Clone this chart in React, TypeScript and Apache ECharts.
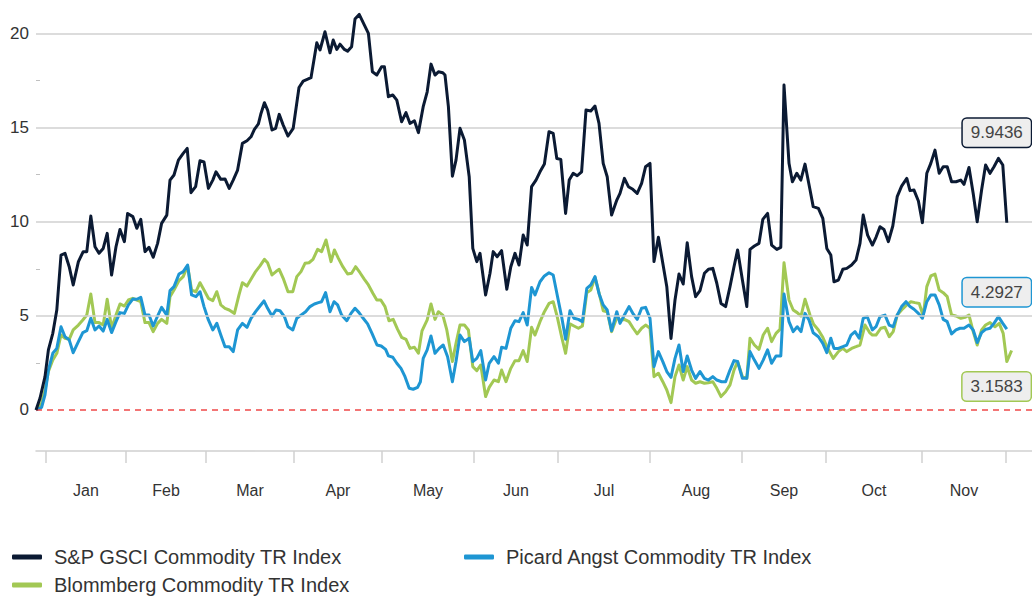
import React, { useEffect, useRef } from "react";
import * as echarts from "echarts";

// x = trading-day index since the base date, y = cumulative return (%)
const months = ["Jan", "Feb", "Mar", "Apr", "May", "Jun", "Jul", "Aug", "Sep", "Oct", "Nov"];
const monthStarts = [2.5, 22.5, 42.5, 64.5, 86.5, 109.5, 130.5, 153.5, 176.5, 197.5, 221.5, 242.5];
const yLabels = [0, 5, 10, 15, 20];
const yMinorTicks = [2.5, 7.5, 12.5, 17.5];

const gsci: [number, number][] = [
  [0,0],[1,0.62],[2.25,1.77],[3.1,3.19],[4.2,4.07],[5.2,5.31],[6.25,8.23],[7.25,8.32],[8.3,7.61],[9.3,6.64],[10.6,7.88],[11.8,8.41],[12.7,8.41],[13.7,10.3],[14.75,8.67],[15.75,8.32],[16.8,8.58],[17.8,9.38],[18.9,7.17],[20,8.67],[21,9.59],[22.1,8.94],[22.9,10.44],[24.2,10.27],[25.2,9.65],[26.2,10.12],[27.25,8.41],[28.25,8.64],[29.3,8.11],[30.4,8.85],[31.4,9.91],[32.7,10.35],[33.5,12.21],[34.5,12.48],[35.6,13.27],[36.8,13.63],[37.8,13.89],[38.75,11.54],[39.9,11.86],[41,13.24],[42,13.17],[43.1,11.77],[44.2,12.21],[45,12.65],[46.2,12.25],[47.25,12.27],[48.3,11.77],[49.3,12.21],[50.4,12.74],[51.6,14.16],[52.75,14.3],[53.75,14.51],[54.6,14.9],[55.6,15.19],[56.25,15.75],[57.1,16.32],[57.9,15.93],[59,14.87],[59.9,14.96],[60.8,15.7],[61.8,15.13],[63,14.55],[64.3,14.96],[65.75,17.13],[66.8,17.47],[67.8,17.56],[68.75,17.65],[70.2,19.5],[71,19.12],[72.25,20.09],[73.5,18.97],[74.3,19.65],[75.2,19.15],[76,19.43],[77.1,19.15],[77.9,19.06],[78.9,19.29],[79.75,20.76],[80.8,21.01],[82.1,20.44],[83.1,20],[84.1,17.96],[85.2,17.79],[86.4,18.23],[87.1,18.23],[88.1,16.64],[89.2,16.73],[90.2,16.46],[91.4,15.31],[92.5,15.79],[93.5,15.22],[94.6,15.36],[95.6,14.73],[96.8,16.11],[97.8,16.9],[98.75,18.37],[99.75,17.79],[100.6,17.96],[101.7,17.91],[102.25,17.79],[103.1,16.11],[104.1,12.42],[105,13.27],[106,14.96],[107.1,14.34],[108.3,12.39],[109.2,8.58],[110.2,7.88],[111,8.32],[112.4,6.11],[113.5,7.26],[114.3,8.41],[115.3,8.14],[116.4,8.46],[117.7,6.41],[118.7,7.61],[119.75,8.32],[120.75,7.7],[121.8,9.29],[122.8,8.76],[123.9,11.86],[125,12.21],[126,12.65],[127.1,13.06],[128.25,14.78],[129.3,14.69],[130.2,13.36],[131.2,13.31],[132.4,10.44],[133.3,12.21],[134.3,12.57],[135.3,12.44],[136.4,12.65],[137.5,15.93],[138.7,15.88],[139.75,16.14],[140.75,15.22],[141.8,13.1],[142.8,12.39],[143.9,10.35],[145.2,11.15],[146,11.5],[147.1,12.3],[148.1,11.86],[149.2,11.72],[150.3,11.5],[151.4,12.04],[152.4,12.92],[153.5,13.1],[154.5,7.88],[155.6,9.17],[156.7,7.79],[157.7,6.55],[158.75,3.8],[159.75,5.84],[160.75,7.22],[161.8,6.69],[162.8,8.88],[163.9,7.08],[164.9,6.02],[166,6.34],[167.1,7.26],[168.1,7.47],[169.2,7.52],[170.2,6.73],[171.25,5.66],[172.4,5.49],[173.5,6.55],[174.5,7.61],[175.4,8.5],[176.6,6.9],[177.7,5.49],[178.5,8.53],[179.6,8.71],[180.75,8.85],[181.7,10.12],[182.9,10.44],[183.9,8.76],[185.2,8.53],[186.2,8.64],[187,17.26],[188.25,13.1],[189.1,12.12],[190.2,12.57],[191.2,12.21],[192.25,13.06],[193.5,11.7],[194.3,10.8],[195.6,10.71],[196.7,10.18],[197.7,8.58],[198.7,8.23],[199.5,6.81],[200.6,6.9],[201.7,7.47],[202.7,7.52],[203.9,7.7],[205,7.96],[206,8.85],[206.8,10.35],[207.9,9.29],[209.1,8.76],[210,9.17],[211,9.73],[212,9.59],[213.1,8.94],[214.2,9.77],[215.3,11.33],[216.4,11.89],[217.7,12.3],[218.5,11.65],[219.5,11.68],[220.6,11.1],[221.6,9.95],[222.7,12.57],[223.7,13.1],[224.75,13.8],[225.8,12.57],[226.8,12.92],[227.8,12.92],[228.9,12.12],[230,12.12],[231.2,12.21],[232,11.98],[233.25,12.88],[234.3,11.5],[235.3,10],[236.4,11.68],[237.4,13.01],[238.5,12.57],[239.5,12.92],[240.6,13.36],[241.7,13.01],[242.7,9.9436]
];

const picard: [number, number][] = [
  [0,0],[1.4,0.14],[2.25,0.8],[3.1,2.12],[4.2,3.01],[5.2,3.27],[6.25,4.42],[7.25,3.89],[8.3,3.72],[9.3,3.04],[10.6,3.63],[11.7,4.11],[12.7,4.21],[13.7,4.87],[14.75,4.25],[15.75,4.46],[16.8,4.19],[17.8,4.81],[18.9,4.11],[20,4.69],[21,5.17],[22.1,5.13],[23.1,5.58],[24.2,5.89],[25.2,5.88],[26.2,5.98],[27.25,5.04],[28.25,5.04],[29.3,4.46],[30.4,4.99],[31.4,5.45],[32.7,5.04],[33.5,6.34],[34.5,6.55],[35.75,7.22],[36.8,7.35],[37.9,7.7],[38.9,6.11],[40,6.02],[41,6.28],[42,5.49],[43.1,4.78],[44.2,4.25],[45.2,4.6],[46.2,3.98],[47.25,3.36],[48.3,3.36],[49.3,3.1],[50.4,4.25],[51.6,4.6],[52.75,4.39],[53.75,4.87],[54.9,5.22],[56,5.52],[57,5.79],[57.9,5.4],[59,4.99],[60,5.31],[61,5.27],[62.1,4.96],[63,4.42],[64.2,4.25],[65.2,4.87],[66.25,5.04],[67.4,5.22],[68.5,5.49],[69.6,5.63],[70.6,5.7],[71.4,5.75],[72.4,6.23],[73.5,5.22],[74.5,5.75],[75.4,5.58],[76.4,5.04],[77.7,4.74],[78.75,5.13],[79.75,5.4],[80.75,5.17],[81.8,4.87],[82.9,4.57],[84,4.07],[85.25,3.45],[86.3,3.4],[87.4,3.22],[88.1,2.87],[89.2,2.8],[90.2,2.48],[91.25,2.21],[92.25,1.77],[93.3,1.15],[94.3,1.1],[95.4,1.2],[96.1,1.5],[96.8,2.74],[97.8,3.19],[98.75,3.93],[99.75,3.01],[100.8,3.27],[101.8,3.45],[102.9,2.83],[104.1,1.5],[105,2.57],[106,3.98],[107.1,3.63],[108.3,3.81],[109.2,2.57],[110.2,2.74],[111.2,3.15],[112.4,1.59],[113.3,2.48],[114.5,2.83],[115.6,2.48],[116.4,3.33],[117.5,3.27],[118.7,4.34],[119.75,4.74],[120.75,4.69],[121.8,5.17],[122.8,4.51],[123.9,6.51],[124.75,6.11],[126,6.81],[127.1,7.12],[128.25,7.29],[129.3,7.17],[130.3,6.11],[131.4,4.96],[132.4,3.75],[133.5,5.27],[134.5,4.87],[135.6,4.81],[136.6,4.69],[137.7,6.46],[138.7,6.64],[139.75,7.08],[140.75,6.19],[141.8,5.58],[142.8,5.31],[143.9,4.21],[145.2,5.22],[146,4.6],[147.1,5.04],[148.25,5.49],[149.3,5.1],[150.3,4.81],[151.4,5.4],[152.4,5.45],[153.5,4.87],[154.5,2.3],[155.6,3.1],[156.7,2.57],[157.7,2.04],[158.75,1.73],[159.75,2.74],[160.75,3.45],[161.8,2.04],[162.8,2.87],[163.9,2.12],[164.9,1.68],[166,2.04],[167.1,1.68],[168.1,1.59],[169.2,1.77],[170.2,1.59],[171.4,1.5],[172.4,1.5],[173.5,2.12],[174.5,2.62],[175.4,2.57],[176.6,1.68],[177.7,1.68],[178.5,3.1],[179.6,2.65],[180.75,2.21],[181.8,2.65],[182.9,3.19],[183.9,2.48],[185,2.87],[186.2,2.87],[187,6.16],[188.25,4.69],[189.3,4.16],[190.3,4.42],[191.25,4.16],[192.25,5.13],[193.25,4.78],[194.3,4.1],[195.6,3.89],[196.7,3.54],[197.7,3.04],[198.7,3.81],[199.5,3.27],[200.6,3.27],[201.7,3.36],[202.7,3.45],[203.75,3.98],[204.75,4.16],[205.8,3.81],[206.8,4.87],[207.8,4.96],[209.1,4.25],[210,4.42],[211,4.96],[212.25,5.04],[213.3,4.51],[214.3,4.42],[215.3,5.04],[216.4,5.49],[217.5,5.75],[218.5,5.49],[219.5,5.35],[220.6,5.13],[221.6,4.87],[222.7,5.75],[223.7,6.11],[224.75,6.11],[225.8,5.58],[226.8,4.81],[227.8,4.69],[228.9,4.04],[230,4.25],[231,4.34],[232,4.34],[233.25,4.51],[234.3,4.25],[235.3,3.58],[236.4,4.11],[237.4,4.28],[238.5,4.34],[239.5,4.6],[240.6,4.96],[241.7,4.6],[242.7,4.2927]
];

const bloomberg: [number, number][] = [
  [0,0],[1.4,0.35],[2.25,1.06],[3.1,2.04],[4.2,2.65],[5.2,3.01],[6.25,3.98],[7.25,3.81],[8.3,3.75],[9.3,4.25],[10.6,4.51],[11.7,4.78],[12.7,5.04],[13.7,6.16],[14.75,4.64],[15.75,4.64],[16.8,4.51],[17.8,5.88],[18.9,4.34],[20,5.04],[21,5.63],[22.1,5.52],[23.1,5.84],[24.2,5.93],[25.2,5.84],[26.2,5.75],[27.25,4.64],[28.25,4.64],[29.3,4.16],[30.4,4.6],[31.4,4.81],[32.7,4.6],[33.5,6.02],[34.5,6.37],[35.75,6.87],[36.8,7.08],[37.9,7.65],[38.9,6.37],[40,6.28],[41,6.76],[42,6.37],[43.1,5.93],[44.2,5.81],[45.2,6.28],[46.2,5.58],[47.25,5.4],[48.3,5.31],[49.6,5.13],[50.75,6.11],[51.6,6.76],[52.75,6.58],[53.75,6.94],[54.9,7.35],[56,7.65],[57.1,8],[57.9,7.82],[59,7.17],[60,7.35],[60.8,7.47],[61.8,6.99],[63,6.28],[64.2,6.28],[65.2,7.08],[66.25,7.35],[67.25,7.79],[68.25,7.82],[69.25,8],[70.4,8.53],[71.4,8.41],[72.5,9.03],[73.75,7.88],[74.6,8.5],[75.6,8.05],[76.7,7.61],[77.9,7.22],[78.9,7.26],[79.9,7.61],[81,7.29],[82.1,6.94],[83.1,6.64],[84.25,6.19],[85.2,5.84],[86.2,5.84],[87.25,5.49],[88.25,4.74],[89.3,4.81],[90.4,4.28],[91.4,3.86],[92.5,3.75],[93.5,3.27],[94.6,3.33],[95.6,3.01],[96.5,4.2],[97.8,4.78],[98.75,5.63],[99.75,4.81],[100.6,5.22],[101.7,5.04],[102.7,4.25],[104.1,2.57],[105,3.54],[106,4.51],[107.1,4.51],[108.1,4.25],[109.2,2.3],[110.2,2.09],[111.2,2.39],[112.4,0.71],[113.3,1.2],[114.5,1.59],[115.6,1.5],[116.4,2.12],[117.5,1.5],[118.7,2.21],[119.75,2.62],[120.75,2.62],[121.8,3.15],[122.8,2.57],[123.9,4.39],[124.75,3.98],[126,4.69],[127.1,5.22],[128.25,5.66],[129.3,5.75],[130.3,4.96],[131.4,3.89],[132.4,3.01],[133.5,4.57],[134.5,4.46],[135.6,4.34],[136.6,4.46],[137.7,6.23],[138.7,6.37],[139.75,7.04],[140.75,6.23],[141.8,5.27],[142.8,5.22],[143.9,4.16],[145.2,4.9],[146,4.78],[147.1,4.81],[148.25,4.69],[149.3,4.34],[150.3,4.04],[151.4,4.34],[152.4,4.51],[153.5,4.34],[154.5,1.77],[155.6,1.95],[156.7,1.5],[157.7,1.06],[158.75,0.39],[159.75,1.77],[160.75,2.39],[161.8,1.59],[162.8,2.3],[163.9,1.59],[164.9,1.42],[166,1.5],[167.1,1.42],[168.1,1.45],[169.2,1.5],[170.2,1.15],[171.25,0.71],[172.4,0.97],[173.5,1.33],[174.5,2.12],[175.4,2.57],[176.6,1.77],[177.7,1.68],[178.5,3.81],[179.6,3.45],[180.75,3.22],[181.8,3.98],[182.9,4.34],[183.9,3.63],[185,4.07],[186,4.28],[187,7.82],[188.25,5.84],[189.3,5.31],[190.3,5.17],[191.25,4.99],[192.25,5.88],[193.5,5.04],[194.4,4.55],[195.6,4.25],[196.7,3.86],[197.7,3.36],[199.3,2.74],[200.6,3.1],[201.7,3.27],[202.7,3.1],[203.9,3.27],[205,3.36],[206,3.45],[207.25,4.51],[208.4,4.11],[209.1,3.98],[210,3.98],[211.2,4.34],[212.25,4.39],[213.3,3.89],[214.3,4.16],[215.3,5.04],[216.4,5.31],[217.7,5.58],[218.7,5.75],[219.75,5.7],[220.8,5.66],[221.8,4.99],[222.7,6.55],[223.7,7.12],[224.75,7.22],[225.8,6.37],[226.8,6.23],[227.8,6.02],[228.9,5.04],[230,4.99],[231.2,4.87],[232.25,4.92],[233.25,5.04],[234.3,4.16],[235.3,3.45],[236.4,4.25],[237.4,4.51],[238.5,4.64],[239.75,4.42],[240.8,4.6],[241.8,4.07],[242.7,2.57],[243.9,3.1583]
];

const NAVY = "#0b1a33";
const BLUE = "#1e96d3";
const GREEN = "#a2c854";
const FONT = "'Liberation Sans', Arial, Helvetica, sans-serif";

const monthMids = months.map((_, i) => (monthStarts[i] + monthStarts[i + 1]) / 2);

function endLabel(color: string, offset: [number, number]) {
  return {
    show: true,
    formatter: (p: any) => Number(p.value[1]).toFixed(4),
    offset,
    color: "#444",
    fontSize: 17,
    fontFamily: FONT,
    backgroundColor: "#eeeeee",
    borderColor: color,
    borderWidth: 1.5,
    borderRadius: 4,
    padding: [6, 8, 5, 8],
  };
}

function legendItem(name: string, left: number, top: number) {
  return {
    data: [name],
    orient: "horizontal",
    left,
    top,
    padding: 0,
    itemWidth: 30,
    itemHeight: 5,
    icon: "roundRect",
    selectedMode: false,
    textStyle: { fontSize: 20, color: "#333", fontFamily: FONT, padding: [0, 0, 0, 7] },
  };
}

export default function App() {
  const ref = useRef<HTMLDivElement>(null);
  useEffect(() => {
    if (!ref.current) return;
    const chart = echarts.init(ref.current, undefined, { renderer: "svg" });
    const grid = { color: "#d0d0d0", width: 1.5, type: "solid" as const };
    chart.setOption({
      animation: false,
      textStyle: { fontFamily: FONT },
      grid: { left: 36, right: 0, top: 5, height: 446, containLabel: false },
      legend: [
        legendItem("S&P GSCI Commodity TR Index", 12, 547),
        legendItem("Blommberg Commodity TR Index", 12, 575),
        legendItem("Picard Angst Commodity TR Index", 464, 547),
      ],
      xAxis: {
        type: "value",
        min: 0,
        max: 249,
        axisLine: { show: true, onZero: false, lineStyle: { color: "#d0d0d0", width: 1.5 } },
        axisTick: { show: true, customValues: monthStarts, length: 12, lineStyle: { color: "#d0d0d0", width: 1.5 } },
        axisLabel: {
          customValues: monthMids,
          formatter: (v: number) => {
            let best = 0;
            monthMids.forEach((m, i) => {
              if (Math.abs(m - v) < Math.abs(monthMids[best] - v)) best = i;
            });
            return months[best];
          },
          margin: 31,
          fontSize: 16,
          color: "#333",
        },
        splitLine: { show: false },
      },
      yAxis: {
        type: "value",
        min: -2.18,
        max: 21.51,
        axisLine: { show: false },
        axisTick: { show: true, inside: true, customValues: yMinorTicks, length: 4, lineStyle: { color: "#c0c0c0" } },
        axisLabel: { customValues: yLabels, margin: 7, fontSize: 17, color: "#333" },
        splitLine: { show: false },
      },
      series: [
        {
          name: "gridlines",
          type: "line",
          data: [],
          z: 1,
          silent: true,
          markLine: {
            silent: true,
            symbol: "none",
            label: { show: false },
            data: [
              ...yLabels.filter((v) => v !== 0).map((v) => ({ yAxis: v, lineStyle: grid })),
              { yAxis: 0, lineStyle: { color: "#f04848", width: 1.5, type: [6, 5] } },
            ],
          },
        },
        {
          name: "Blommberg Commodity TR Index",
          type: "line",
          data: bloomberg,
          symbol: "none",
          z: 3,
          color: GREEN,
          lineStyle: { width: 3, color: GREEN, join: "round" },
          endLabel: endLabel(GREEN, [-57, 36]),
        },
        {
          name: "Picard Angst Commodity TR Index",
          type: "line",
          data: picard,
          symbol: "none",
          z: 4,
          color: BLUE,
          lineStyle: { width: 3, color: BLUE, join: "round" },
          endLabel: endLabel(BLUE, [-52, -37]),
        },
        {
          name: "S&P GSCI Commodity TR Index",
          type: "line",
          data: gsci,
          symbol: "none",
          z: 5,
          color: NAVY,
          lineStyle: { width: 3, color: NAVY, join: "round" },
          endLabel: endLabel(NAVY, [-52, -90]),
        },
      ],
    });
    return () => chart.dispose();
  }, []);
  return (
    <div
      ref={ref}
      style={{ position: "fixed", left: 0, top: 0, width: 1032, height: 598, background: "#fff" }}
    />
  );
}
